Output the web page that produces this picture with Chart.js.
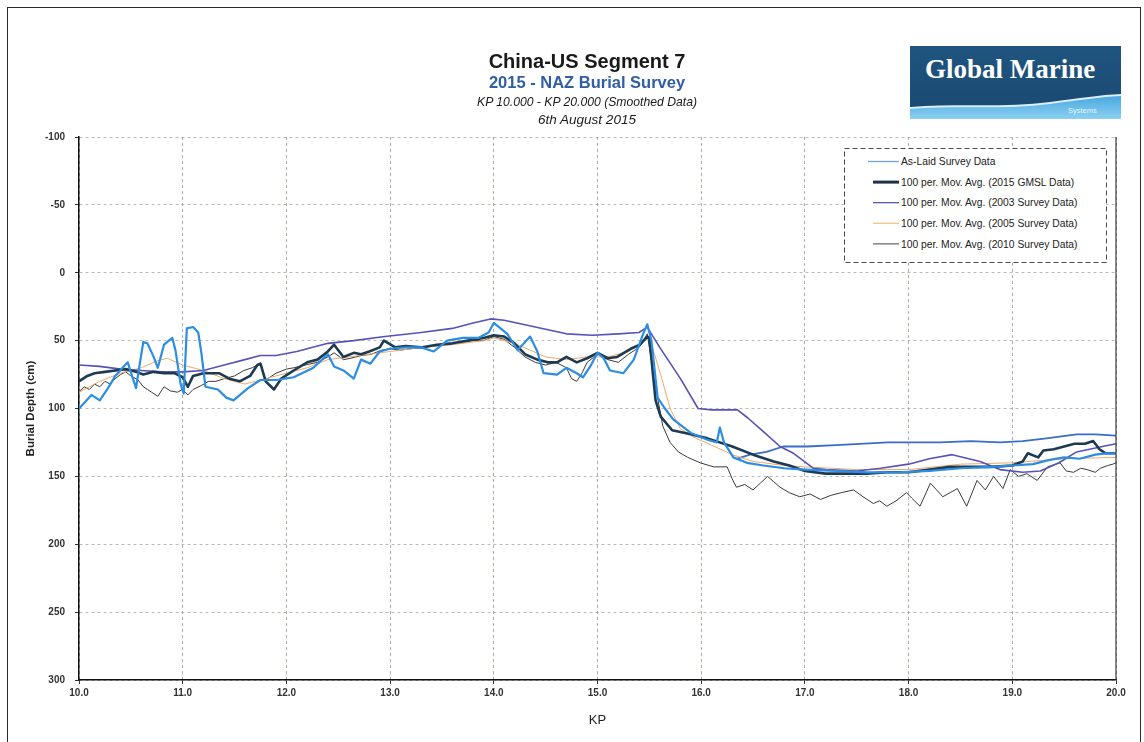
<!DOCTYPE html>
<html><head><meta charset="utf-8">
<script src="https://cdn.jsdelivr.net/npm/chart.js@4.4.1/dist/chart.umd.min.js"></script>
<style>
html,body{margin:0;padding:0;background:#fff;}
#page{position:relative;width:1144px;height:742px;overflow:hidden;background:#fff;font-family:'Liberation Sans',Arial,Helvetica,sans-serif;}
#frame{position:absolute;left:7px;top:7px;width:1134px;height:800px;border:1.5px solid #2a2a2a;box-sizing:border-box;pointer-events:none;}
#c{position:absolute;left:0;top:0;}
.tl{position:absolute;left:387px;width:400px;text-align:center;white-space:nowrap;line-height:1;}
#t1{top:51px;font-size:20px;font-weight:bold;color:#1a1a1a;}
#t2{top:74px;font-size:16.5px;font-weight:bold;color:#2f5ea6;}
#t3{top:95.5px;font-size:12.2px;font-style:italic;color:#1a1a1a;}
#t4{top:112.5px;font-size:13.5px;font-style:italic;color:#1a1a1a;}
#logo{position:absolute;left:910px;top:46px;}
#legend{position:absolute;left:843px;top:147px;}
</style>
</head>
<body>
<div id="page">
  <canvas id="c" width="1144" height="742"></canvas>
  <div class="tl" id="t1">China-US Segment 7</div>
  <div class="tl" id="t2">2015 - NAZ Burial Survey</div>
  <div class="tl" id="t3">KP 10.000 - KP 20.000 (Smoothed Data)</div>
  <div class="tl" id="t4">6th August 2015</div>
  <svg id="logo" width="211" height="73" xmlns="http://www.w3.org/2000/svg">
    <defs>
      <linearGradient id="wv" x1="0" y1="0" x2="0" y2="1">
        <stop offset="0" stop-color="#4aa8e0"/><stop offset="1" stop-color="#8cd0f2"/>
      </linearGradient>
      <linearGradient id="dk" x1="0" y1="0" x2="0" y2="1">
        <stop offset="0" stop-color="#1f5580"/><stop offset="1" stop-color="#1a4870"/>
      </linearGradient>
    </defs>
    <rect x="0" y="0" width="211" height="73" fill="url(#dk)"/>
    <path d="M0,61 C50,57 95,62 140,56 C170,52 190,49 211,48 L211,73 L0,73 Z" fill="#d8eefa"/>
    <path d="M0,63 C50,59 95,64 140,58 C170,54 190,51 211,50 L211,73 L0,73 Z" fill="url(#wv)"/>
    <text x="15" y="32" font-family="'Liberation Serif','Times New Roman',serif" font-weight="bold" font-size="27" fill="#ffffff">Global Marine</text>
    <text x="158" y="67" font-family="'Liberation Sans',Arial,sans-serif" font-size="7.5" fill="#e8f6ff">Systems</text>
  </svg>
  <svg id="legend" width="266" height="118" xmlns="http://www.w3.org/2000/svg"></svg>
  <div id="frame"></div>
</div>
<script>
// ---------------- data (KP vs burial depth in cm) ----------------
const kpTicks = [10,11,12,13,14,15,16,17,18,19,20];
const depthTicks = [-100,-50,0,50,100,150,200,250,300];

const kpAsLaid = [10.0,10.05,10.12,10.2,10.28,10.35,10.42,10.47,10.52,10.55,10.58,10.62,10.66,10.72,10.76,10.82,10.9,10.93,10.98,11.01,11.04,11.1,11.15,11.18,11.22,11.34,11.42,11.49,11.63,11.75,11.9,12.07,12.26,12.4,12.46,12.55,12.65,12.72,12.81,12.9,13.0,13.15,13.3,13.42,13.55,13.7,13.85,13.95,14.0,14.05,14.13,14.23,14.35,14.42,14.48,14.61,14.7,14.8,14.86,14.93,15.0,15.06,15.12,15.25,15.35,15.44,15.48,15.52,15.58,15.65,15.73,15.9,16.06,16.15,16.18,16.22,16.31,16.44,16.6,16.8,17.0,17.3,17.6,17.9,18.2,18.5,18.8,19.0,19.2,19.35,19.5,19.65,19.8,19.9,20.0];
const depthAsLaid = [100,96,90,94,85,76,70,66,78,85,70,51,52,62,70,53,48,57,82,89,41,40,44,59,84,86,92,94,85,79,79,77,70,60,69,72,78,64,67,58,56,55,55,58,50,48,48,44,37,40,45,57,47,58,74,75,70,74,77,69,59,63,72,74,64,45,38,50,92,100,108,118,123,125,114,125,136,140,142,144,145,146,147,147,146,144,143,142,141,138,136,137,134,133,133];

const kp2015 = [10.0,10.08,10.15,10.25,10.35,10.45,10.55,10.62,10.72,10.82,10.92,11.0,11.05,11.1,11.2,11.35,11.45,11.55,11.65,11.72,11.75,11.8,11.88,11.95,12.07,12.2,12.3,12.4,12.46,12.55,12.65,12.72,12.8,12.9,12.94,13.05,13.15,13.3,13.45,13.6,13.75,13.9,14.0,14.1,14.2,14.3,14.42,14.52,14.61,14.7,14.8,14.9,15.0,15.1,15.19,15.32,15.41,15.48,15.5,15.56,15.61,15.72,15.9,16.06,16.3,16.5,16.7,16.85,17.0,17.2,17.4,17.6,17.8,18.0,18.2,18.4,18.6,18.8,19.0,19.1,19.15,19.25,19.3,19.4,19.5,19.6,19.7,19.78,19.84,19.9,20.0];
const depth2015 = [80,76,74,73,72,71,73,75,73,74,74,77,84,76,74,74,78,80,76,68,67,80,86,78,72,66,64,58,53,62,59,60,58,55,50,55,54,55,53,52,50,48,46,47,52,60,64,66,66,62,66,63,59,63,62,56,53,47,48,94,106,116,119,122,128,134,139,142,146,148,148,148,147,147,145,143,143,143,142,139,133,136,131,130,128,126,126,124,130,133,133];

const kp2003 = [10.0,10.2,10.4,10.6,10.8,11.0,11.2,11.4,11.6,11.75,11.9,12.1,12.4,12.65,12.95,13.3,13.6,13.8,13.97,14.1,14.4,14.7,14.95,15.2,15.4,15.48,15.6,15.8,15.97,16.1,16.35,16.45,16.6,16.76,16.89,17.08,17.2,17.5,17.73,18.0,18.2,18.42,18.69,18.88,19.1,19.27,19.45,19.62,19.87,20.0];
const depth2003 = [68,69,71,72,73,73,72,68,64,61,61,58,52,50,47,44,41,37,34,35,40,45,46,45,44,40,55,78,100,101,101,107,117,128,133,144,145,146,144,141,137,134,139,145,147,146,140,132,128,126];

const kp2005 = [10.0,10.2,10.4,10.6,10.75,10.85,11.0,11.2,11.4,11.6,11.8,12.0,12.2,12.4,12.6,12.8,13.0,13.3,13.6,13.9,14.0,14.2,14.5,14.7,14.9,15.1,15.3,15.45,15.5,15.55,15.62,15.7,15.8,15.95,16.1,16.3,16.5,16.8,17.0,17.5,18.0,18.5,19.0,19.5,20.0];
const depth2005 = [88,80,74,70,65,63,68,72,78,82,78,74,70,64,62,60,58,55,53,50,48,52,62,64,62,62,58,50,48,60,78,100,115,122,127,134,139,142,143,145,145,141,140,137,136];

const kp2010 = [10.0,10.05,10.1,10.15,10.2,10.25,10.3,10.35,10.4,10.45,10.5,10.57,10.62,10.66,10.7,10.76,10.82,10.88,10.95,11.0,11.05,11.1,11.18,11.25,11.32,11.4,11.5,11.59,11.67,11.75,11.8,11.9,12.0,12.07,12.18,12.3,12.4,12.46,12.55,12.62,12.72,12.82,12.92,13.0,13.1,13.2,13.3,13.45,13.6,13.75,13.9,14.0,14.1,14.2,14.3,14.4,14.5,14.6,14.7,14.75,14.8,14.85,14.9,15.0,15.1,15.2,15.3,15.4,15.48,15.55,15.63,15.7,15.78,15.87,15.99,16.12,16.25,16.3,16.34,16.42,16.5,16.57,16.64,16.7,16.76,16.85,16.95,17.05,17.15,17.25,17.35,17.47,17.56,17.66,17.72,17.79,17.88,17.98,18.03,18.11,18.21,18.33,18.4,18.47,18.56,18.66,18.74,18.82,18.91,18.98,19.06,19.14,19.24,19.34,19.46,19.52,19.59,19.66,19.72,19.8,19.85,19.92,19.97,20.0];
const depth2010 = [88,84,86,82,84,80,82,78,75,73,76,79,84,86,88,91,84,87,88,86,90,86,83,80,80,78,76,72,70,67,79,74,71,70,68,66,62,59,64,63,61,60,57,56,57,56,55,54,52,50,50,47,49,55,62,66,68,66,70,78,80,74,66,60,64,66,60,55,45,80,113,125,132,136,140,143,143,152,158,156,160,155,150,154,158,162,165,163,167,164,162,160,165,170,168,172,168,162,166,172,155,165,162,159,172,153,160,150,159,145,150,148,153,143,140,146,147,144,145,147,144,142,141,140];

const kpFlat = [16.35,16.47,16.63,16.79,17.02,17.3,17.53,17.8,18.0,18.3,18.6,18.88,19.1,19.33,19.62,19.8,20.0];
const depthFlat = [137,134,132,128,128,127,126,125,125,125,124,125,124,122,119,119,120];

const legendLabels = [
  'As-Laid Survey Data',
  '100 per. Mov. Avg. (2015 GMSL Data)',
  '100 per. Mov. Avg. (2003 Survey Data)',
  '100 per. Mov. Avg. (2005 Survey Data)',
  '100 per. Mov. Avg. (2010 Survey Data)'
];
// ------------------------------------------------------------------

const FONT = "'Liberation Sans', Arial, Helvetica, sans-serif";
const pts = (kp, d) => kp.map((k, i) => ({x: k, y: d[i]}));

const datasets = [
  {label: legendLabels[0], data: pts(kpAsLaid, depthAsLaid), borderColor: '#2b8de3', borderWidth: 2.2, legendColor: '#6ea3e2', legendWidth: 1.3},
  {label: legendLabels[1], data: pts(kp2015, depth2015), borderColor: '#1d3a50', borderWidth: 2.6, legendColor: '#1d3147', legendWidth: 3},
  {label: legendLabels[2], data: pts(kp2003, depth2003), borderColor: '#5553b8', borderWidth: 1.6, legendColor: '#4b4aa0', legendWidth: 1.2},
  {label: legendLabels[3], data: pts(kp2005, depth2005), borderColor: '#f0a868', borderWidth: 1, legendColor: '#f2c080', legendWidth: 1.2},
  {label: legendLabels[4], data: pts(kp2010, depth2010), borderColor: '#3a3a3a', borderWidth: 1, legendColor: '#444', legendWidth: 1},
  {label: '', data: pts(kpFlat, depthFlat), borderColor: '#3b6cc9', borderWidth: 1.8, noLegend: true}
];

const rightBorder = {
  id: 'rightBorder',
  afterDraw(chart) {
    const {ctx, chartArea: a} = chart;
    ctx.save();
    ctx.strokeStyle = '#3a3a3a';
    ctx.lineWidth = 1.2;
    ctx.beginPath();
    ctx.moveTo(a.right, a.top);
    ctx.lineTo(a.right, a.bottom);
    ctx.stroke();
    ctx.restore();
  }
};

new Chart(document.getElementById('c'), {
  type: 'line',
  data: {datasets: datasets.map(d => ({
    label: d.label, data: d.data, borderColor: d.borderColor, backgroundColor: d.borderColor,
    borderWidth: d.borderWidth, pointRadius: 0, fill: false, tension: 0
  }))},
  options: {
    responsive: false,
    animation: false,
    devicePixelRatio: 1,
    layout: {padding: {left: 0, right: 28, top: 137, bottom: 0}},
    plugins: {legend: {display: false}, tooltip: {enabled: false}},
    elements: {line: {borderJoinStyle: 'round', borderCapStyle: 'round'}},
    scales: {
      x: {
        type: 'linear', min: kpTicks[0], max: kpTicks[kpTicks.length - 1],
        afterBuildTicks: s => { s.ticks = kpTicks.map(v => ({value: v})); },
        ticks: {callback: v => Number(v).toFixed(1), color: '#333', font: {family: FONT, size: 10, weight: 'bold'}, padding: 3, maxRotation: 0, autoSkip: false},
        grid: {color: 'rgba(75,85,130,0.5)', lineWidth: 1, tickLength: 4, tickColor: '#333', tickWidth: 1},
        border: {display: true, color: '#111', width: 1.5, dash: [3, 3]},
        title: {display: true, text: 'KP', color: '#222', font: {family: FONT, size: 13}, padding: {top: 0, bottom: 14}},
        afterFit(s) { s.height = 62; }
      },
      y: {
        type: 'linear', reverse: true, min: depthTicks[0], max: depthTicks[depthTicks.length - 1],
        afterBuildTicks: s => { s.ticks = depthTicks.map(v => ({value: v})); },
        ticks: {color: '#333', font: {family: FONT, size: 10, weight: 'bold'}, padding: 10, autoSkip: false},
        grid: {color: 'rgba(150,150,150,0.65)', lineWidth: 1, tickLength: 4, tickColor: '#333', tickWidth: 1},
        border: {display: true, color: '#111', width: 1.5, dash: [3, 3]},
        title: {display: true, text: 'Burial Depth (cm)', color: '#222', font: {family: FONT, size: 11.5, weight: 'bold'}, padding: {top: 24, bottom: 0}},
        afterFit(s) { s.width = 79; }
      }
    }
  },
  plugins: [rightBorder]
});

// ----- legend (SVG, built from the dataset labels/colours) -----
(function () {
  const svg = document.getElementById('legend');
  const NS = 'http://www.w3.org/2000/svg';
  const box = document.createElementNS(NS, 'rect');
  box.setAttribute('x', '1.5'); box.setAttribute('y', '1.5');
  box.setAttribute('width', '262'); box.setAttribute('height', '114');
  box.setAttribute('fill', '#fff'); box.setAttribute('stroke', '#4a4a4a');
  box.setAttribute('stroke-width', '1'); box.setAttribute('stroke-dasharray', '5 3');
  svg.appendChild(box);
  datasets.filter(d => !d.noLegend).forEach((d, i) => {
    const cy = 14.5 + i * 20.6;
    const ln = document.createElementNS(NS, 'line');
    ln.setAttribute('x1', i === 0 ? '25' : '30'); ln.setAttribute('x2', '56');
    ln.setAttribute('y1', cy); ln.setAttribute('y2', cy);
    ln.setAttribute('stroke', d.legendColor); ln.setAttribute('stroke-width', d.legendWidth);
    svg.appendChild(ln);
    const tx = document.createElementNS(NS, 'text');
    tx.setAttribute('x', '58'); tx.setAttribute('y', (cy + 3.7).toFixed(1));
    tx.setAttribute('font-family', FONT); tx.setAttribute('font-size', '10.3');
    tx.setAttribute('fill', '#222');
    tx.textContent = d.label;
    svg.appendChild(tx);
  });
})();
</script>
</body></html>
